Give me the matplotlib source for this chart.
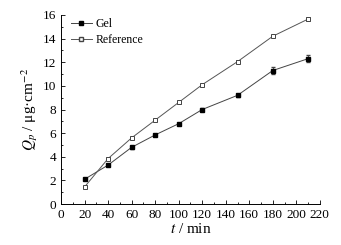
import matplotlib
matplotlib.use("Agg")
import matplotlib.pyplot as plt
from matplotlib.ticker import MultipleLocator
from matplotlib.lines import Line2D

plt.rcParams['font.family'] = ['Liberation Serif', 'DejaVu Serif']
plt.rcParams['mathtext.fontset'] = 'stix'

# release data
t = [20, 40, 60, 80, 100, 120, 150, 180, 210]
gel = [2.1, 3.3, 4.8, 5.85, 6.8, 8.0, 9.2, 11.3, 12.3]
gel_err = [0.1, 0.1, 0.1, 0.1, 0.1, 0.12, 0.15, 0.3, 0.3]
ref = [1.45, 3.85, 5.6, 7.1, 8.6, 10.1, 12.05, 14.2, 15.65]
ref_err = [0.1, 0.1, 0.1, 0.1, 0.1, 0.1, 0.1, 0.1, 0.15]

fig = plt.figure(figsize=(3.41, 2.45), dpi=100)
ax = fig.add_axes([0.179, 0.167, 0.759, 0.772])

ax.errorbar(t, gel, yerr=gel_err, color='#444444', lw=0.7, marker='s', ms=3.3,
            mfc='black', mec='black', capsize=1.5, elinewidth=0.6)
ax.errorbar(t, ref, yerr=ref_err, color='#555555', lw=0.7, marker='s', ms=3.3,
            mfc='white', mec='#444444', mew=0.7, capsize=1.5, elinewidth=0.6)

ax.set_xlim(0, 220)
ax.set_ylim(0, 16)
ax.xaxis.set_major_locator(MultipleLocator(20))
ax.xaxis.set_minor_locator(MultipleLocator(10))
ax.yaxis.set_major_locator(MultipleLocator(2))
ax.yaxis.set_minor_locator(MultipleLocator(1))
ax.tick_params(which='both', direction='in', labelsize=9.5, width=0.6)
ax.tick_params(which='major', length=3)
ax.tick_params(which='minor', length=1.5)
for s in ['top', 'right']:
    ax.spines[s].set_visible(False)
for s in ['left', 'bottom']:
    ax.spines[s].set_linewidth(0.7)

ax.set_xlabel('$t$ / min', fontsize=11, labelpad=1)
ax.set_ylabel('$Q_p$ / μg·cm$^{-2}$', fontsize=11, labelpad=2)

handles = [
    Line2D([], [], color='#444444', lw=0.7, marker='s', ms=3.3, mfc='black', mec='black'),
    Line2D([], [], color='#555555', lw=0.7, marker='s', ms=3.3, mfc='white', mec='#444444'),
]
ax.legend(handles, ['Gel', 'Reference'], loc='upper left', frameon=False,
          fontsize=8.5, handlelength=1.8, handletextpad=0.3,
          borderaxespad=0.2, labelspacing=0.3, bbox_to_anchor=(0.01, 1.02))

fig.savefig('out.png', dpi=100)
